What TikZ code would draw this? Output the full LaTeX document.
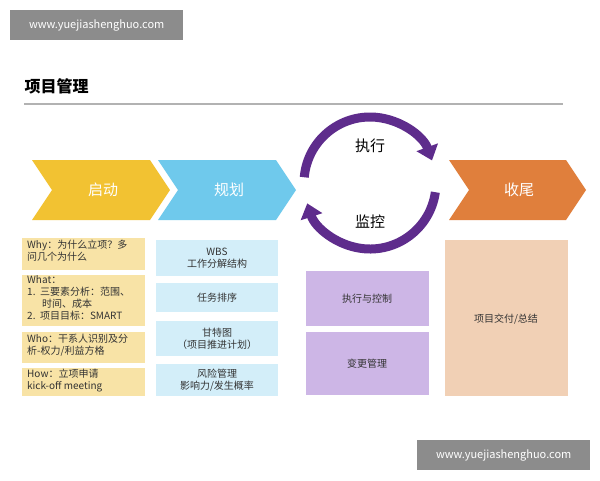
\documentclass[tikz,border=0pt]{standalone}
\usepackage{fontspec}
\setmainfont{Noto Sans CJK SC}
\usetikzlibrary{arrows.meta}
\definecolor{yel}{HTML}{F2C232}\definecolor{yelbox}{HTML}{F8E3A6}
\definecolor{blu}{HTML}{6FC9EC}\definecolor{blubox}{HTML}{D3EEF9}
\definecolor{org}{HTML}{E07F3C}\definecolor{orgbox}{HTML}{F1D0B5}
\definecolor{pur}{HTML}{5E2C8C}\definecolor{purbox}{HTML}{CDB6E6}
\begin{document}
\begin{tikzpicture}[x=1pt,y=-1pt,
 box/.style={inner sep=0pt,font=\fontsize{10}{12}\selectfont,text=black!80},
 wm/.style={fill=black!45,text=white,font=\fontsize{11}{13}\selectfont,minimum width=173pt,minimum height=30pt,inner sep=0pt},
 chev/.style={text=white,font=\fontsize{15}{17}\selectfont}]
\useasboundingbox (0,0) rectangle (600,480);
\fill[white] (0,0) rectangle (600,480);
\node[wm,anchor=north west] (w1) at (10,10) {www.yuejiashenghuo.com};
\node[wm,anchor=north west] (w2) at (417,440) {www.yuejiashenghuo.com};
\node[anchor=west,font=\bfseries\fontsize{16}{18}\selectfont] (t) at (21,86) {项目管理};
\draw[black!30,line width=1.5pt] (24,104) -- (563,104);
% chevrons
\fill[yel] (32,160) -- (150,160) -- (170,190) -- (150,220) -- (32,220) -- (52,190) -- cycle;
\node[chev] (c1) at (103,190) {启动};
\fill[blu] (158,160) -- (276,160) -- (296,190) -- (276,220) -- (158,220) -- (178,190) -- cycle;
\node[chev] (c2) at (229,190) {规划};
\fill[org] (449,160) -- (566,160) -- (586,190) -- (566,220) -- (449,220) -- (469,190) -- cycle;
\node[chev] (c3) at (519,190) {收尾};
% cycle
\draw[pur,line width=9pt,-{Triangle[width=22pt,length=14pt]}] (370,183) ++(185:66) arc[start angle=185,end angle=340,radius=66];
\draw[pur,line width=9pt,-{Triangle[width=22pt,length=14pt]}] (370,183) ++(8:66) arc[start angle=8,end angle=162,radius=66];
\node[font=\fontsize{15}{17}\selectfont] (e) at (370,146) {执行};
\node[font=\fontsize{15}{17}\selectfont] (m) at (370,222) {监控};
% yellow boxes
\fill[yelbox] (22,238) rectangle (145,270);
\node[box,anchor=north west,align=left] (y1) at (27,240) {Why：为什么立项？多\\问几个为什么};
\fill[yelbox] (22,275) rectangle (145,326);
\node[box,anchor=north west,align=left] (y2) at (27,275.5) {What：\\1.\ \ 三要素分析：范围、\\\hspace*{15pt}时间、成本\\2.\ \ 项目目标：SMART};
\fill[yelbox] (22,332) rectangle (145,363);
\node[box,anchor=north west,align=left] (y3) at (27,334) {Who：干系人识别及分\\析-权力/利益方格};
\fill[yelbox] (22,368) rectangle (145,396);
\node[box,anchor=north west,align=left] (y4) at (27,369) {How：立项申请\\kick-off meeting};
% blue boxes
\fill[blubox] (156,240) rectangle (278,276);
\node[box,align=center] (b1) at (217,258) {WBS\\工作分解结构};
\fill[blubox] (156,283) rectangle (278,312);
\node[box] (b2) at (217,298) {任务排序};
\fill[blubox] (156,321) rectangle (278,356);
\node[box,align=center] (b3) at (217,339) {甘特图\\（项目推进计划）};
\fill[blubox] (156,364) rectangle (278,396);
\node[box,align=center] (b4) at (217,380) {风险管理\\影响力/发生概率};
% purple
\fill[purbox] (306,271) rectangle (429,326);
\node[box] (p1) at (367,299) {执行与控制};
\fill[purbox] (306,332) rectangle (429,395);
\node[box] (p2) at (367,364) {变更管理};
% peach
\fill[orgbox] (445,240) rectangle (568,396);
\node[box] (o1) at (506,319) {项目交付/总结};
\end{tikzpicture}
\end{document}
